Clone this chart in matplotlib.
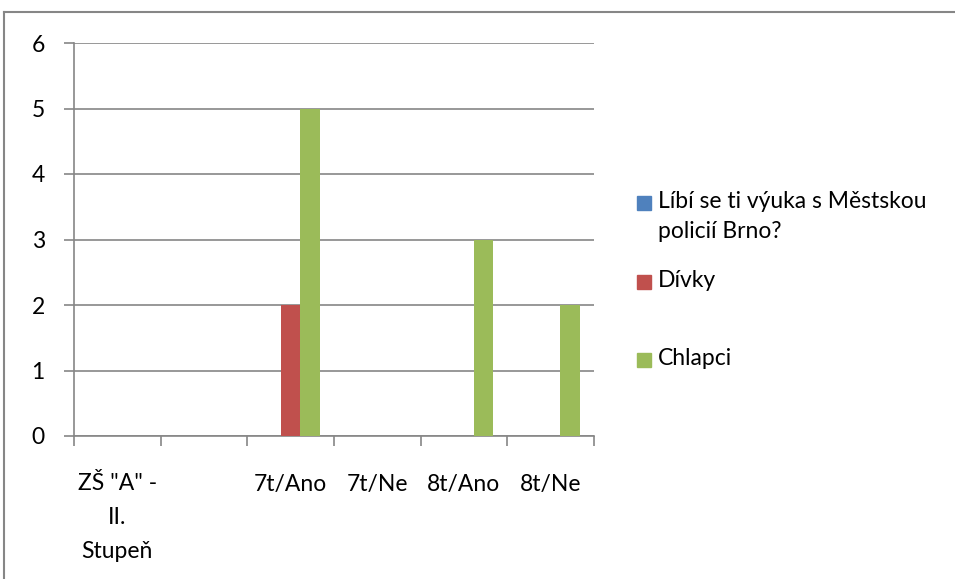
import numpy as np
import matplotlib
matplotlib.use('Agg')
import matplotlib.pyplot as plt
from matplotlib.lines import Line2D
from matplotlib.patches import Rectangle

plt.rcParams['font.family'] = ['Lato', 'DejaVu Sans']

categories = ['ZŠ "A" -\nII.\nStupeň', '', '7t/Ano', '7t/Ne', '8t/Ano', '8t/Ne']
series_names = ['Líbí se ti výuka s Městskou\npolicií Brno?', 'Dívky', 'Chlapci']
otazka = [0, 0, 0, 0, 0, 0]
divky = [0, 0, 2, 0, 0, 0]
chlapci = [0, 0, 5, 0, 3, 2]
colors = ['#4f81bd', '#c0504d', '#9bbb59']

W, H = 955, 579
FS = 16.5
fig = plt.figure(figsize=(W / 100, H / 100), dpi=100)
ax = fig.add_axes([74 / W, 1 - 436 / H, (594 - 74) / W, (436 - 43) / H])

x = np.arange(len(categories))
bw = 1 / 4.5
for i, (vals, c) in enumerate(zip([otazka, divky, chlapci], colors)):
    ax.bar(x + (i - 1) * bw, vals, width=bw, color=c, zorder=3)

ax.set_xlim(-0.5, len(categories) - 0.5)
ax.set_ylim(0, 6)
ax.set_yticks(range(7))
ax.yaxis.grid(True, color='#868686', linewidth=1.2, zorder=0)
for s in ['top', 'right']:
    ax.spines[s].set_visible(False)
for s in ['left', 'bottom']:
    ax.spines[s].set_color('#868686')
    ax.spines[s].set_linewidth(1.2)

ax.set_xticks(np.arange(len(categories) + 1) - 0.5, minor=False)
ax.set_xticklabels([])
ax.set_xticks(x, minor=True)
ax.set_xticklabels(categories, minor=True, fontsize=FS, linespacing=1.75,
                   va='top')
ax.tick_params(axis='x', which='minor', length=0, pad=27)
ax.tick_params(axis='x', which='major', length=7, color='#868686', width=1.2)
ax.tick_params(axis='y', length=7, color='#868686', width=1.2, labelsize=FS,
               pad=14)

# legend drawn by hand to keep Excel's uneven spacing
leg_y = [203, 282, 360]
for name, c, y in zip(series_names, colors, leg_y):
    fig.add_artist(Rectangle((637 / W, 1 - (y + 7) / H), 14 / W, 14 / H,
                             color=c, transform=fig.transFigure))
    fig.text(658 / W, 1 - (y - 12) / H, name, fontsize=FS, va='top',
             ha='left', linespacing=1.55)

fig.add_artist(Line2D([4 / W, 4 / W], [0, 1 - 12 / H], color='#868686',
                      linewidth=1.5, transform=fig.transFigure))
fig.add_artist(Line2D([4 / W, 1], [1 - 12 / H, 1 - 12 / H], color='#868686',
                      linewidth=1.5, transform=fig.transFigure))

fig.savefig('out.png', dpi=100)
